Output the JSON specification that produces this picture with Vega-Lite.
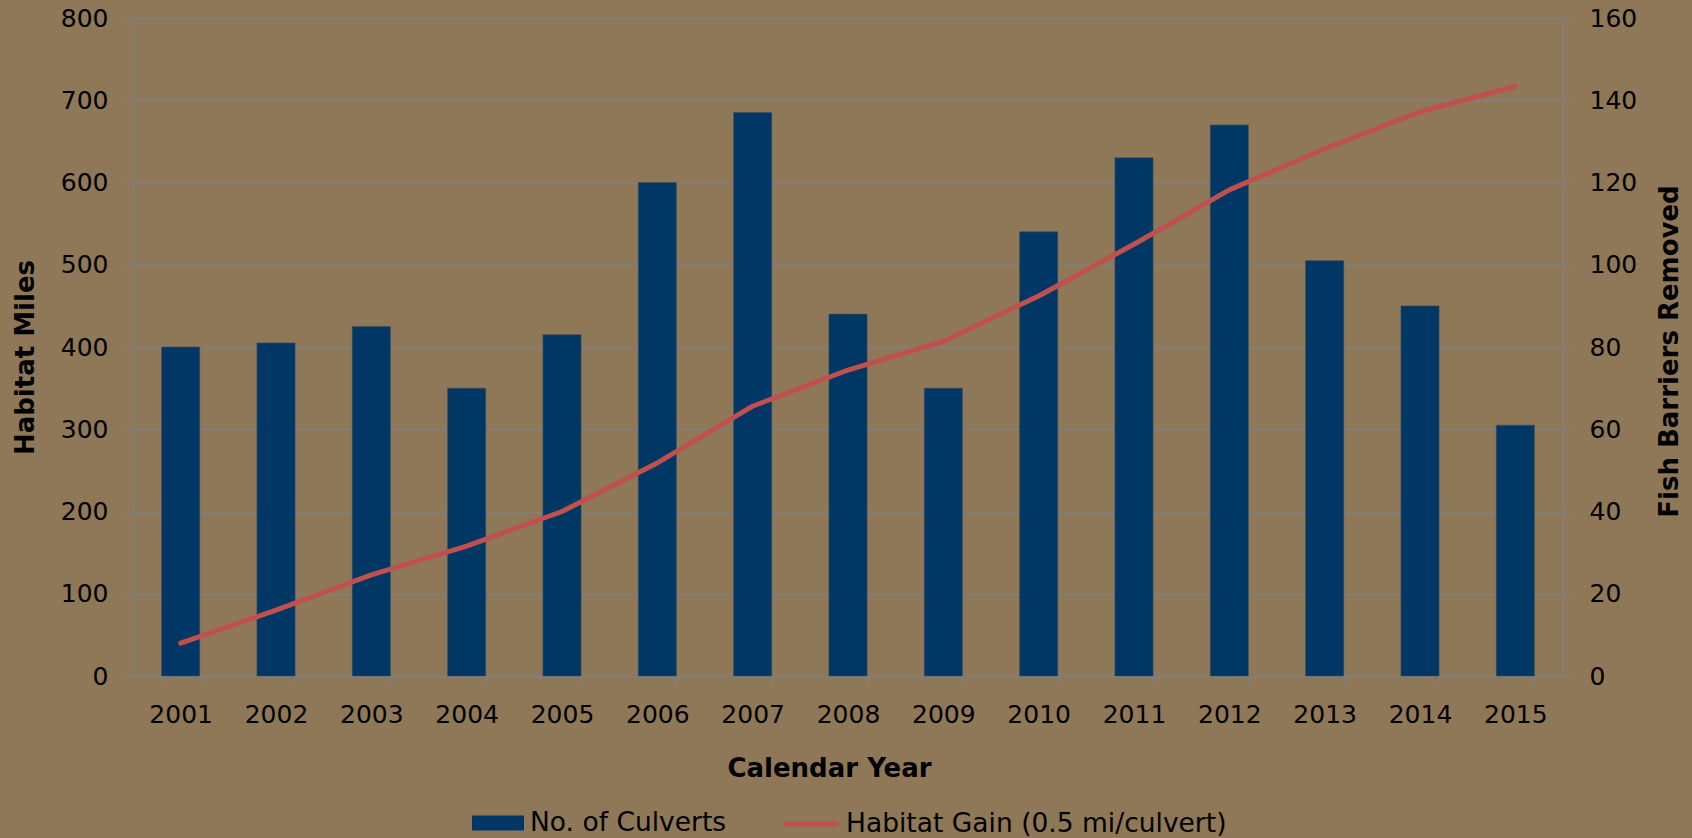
{
  "$schema": "https://vega.github.io/schema/vega-lite/v6.json",
  "width": 1430,
  "height": 658,
  "autosize": {"type": "none"},
  "padding": {"left": 133, "top": 18, "right": 129, "bottom": 162},
  "background": "#8F7857",
  "config": {
    "view": {"stroke": null},
    "font": "DejaVu Sans",
    "axis": {
      "labelFont": "DejaVu Sans",
      "labelFontSize": 25,
      "labelColor": "#000000",
      "titleFont": "DejaVu Sans",
      "titleFontSize": 26,
      "titleFontWeight": "bold",
      "titleColor": "#000000",
      "domainColor": "#808080",
      "domainWidth": 1.5,
      "tickColor": "#808080",
      "tickWidth": 1.5,
      "tickSize": 9,
      "gridColor": "#808080",
      "gridWidth": 1.5
    },
    "legend": {
      "labelFont": "DejaVu Sans",
      "labelFontSize": 26.5,
      "labelColor": "#000000",
      "labelLimit": 0
    }
  },
  "data": {
    "values": [
      {"year": "2001", "culverts": 80, "habitat": 40},
      {"year": "2002", "culverts": 81, "habitat": 80},
      {"year": "2003", "culverts": 85, "habitat": 123},
      {"year": "2004", "culverts": 70, "habitat": 158},
      {"year": "2005", "culverts": 83, "habitat": 200},
      {"year": "2006", "culverts": 120, "habitat": 259},
      {"year": "2007", "culverts": 137, "habitat": 328},
      {"year": "2008", "culverts": 88, "habitat": 372},
      {"year": "2009", "culverts": 70, "habitat": 407},
      {"year": "2010", "culverts": 108, "habitat": 462},
      {"year": "2011", "culverts": 126, "habitat": 525},
      {"year": "2012", "culverts": 134, "habitat": 591},
      {"year": "2013", "culverts": 101, "habitat": 641},
      {"year": "2014", "culverts": 90, "habitat": 686},
      {"year": "2015", "culverts": 61, "habitat": 717}
    ]
  },
  "encoding": {
    "x": {
      "field": "year",
      "type": "ordinal",
      "scale": {"paddingInner": 0.6, "paddingOuter": 0.3},
      "axis": {
        "title": "Calendar Year",
        "labelAngle": 0,
        "labelPadding": 17,
        "tickBand": "extent",
        "titleX": 696,
        "titleY": 100,
        "titleBaseline": "alphabetic",
        "titleAnchor": "middle",
        "titleAlign": "center"
      }
    }
  },
  "layer": [
    {
      "mark": {"type": "bar", "stroke": "#3a4f63", "strokeWidth": 0.6},
      "encoding": {
        "y": {
          "field": "culverts",
          "type": "quantitative",
          "scale": {"domain": [0, 160]},
          "axis": {
            "orient": "right",
            "title": "Fish Barriers Removed",
            "values": [0, 20, 40, 60, 80, 100, 120, 140, 160],
            "grid": false,
            "labelPadding": 17,
            "titleAngle": -90,
            "titleX": 114,
            "titleY": 333,
            "titleBaseline": "alphabetic",
            "titleAlign": "center"
          }
        },
        "fill": {
          "datum": "No. of Culverts",
          "scale": {"range": ["#003764"]},
          "legend": {
            "title": null,
            "orient": "none",
            "legendX": 339,
            "legendY": 779,
            "padding": 0,
            "symbolType": "M-1,-0.2885H1V0.2885H-1Z",
            "symbolSize": 2704,
            "symbolStrokeWidth": 0,
            "symbolOpacity": 1,
            "labelOffset": 6
          }
        }
      }
    },
    {
      "mark": {"type": "line", "strokeWidth": 5, "strokeCap": "round", "strokeJoin": "round"},
      "encoding": {
        "y": {
          "field": "habitat",
          "type": "quantitative",
          "scale": {"domain": [0, 800]},
          "axis": {
            "orient": "left",
            "title": "Habitat Miles",
            "values": [0, 100, 200, 300, 400, 500, 600, 700, 800],
            "grid": true,
            "labelPadding": 16,
            "titleAngle": -90,
            "titleX": -100,
            "titleY": 339,
            "titleBaseline": "alphabetic",
            "titleAlign": "center"
          }
        },
        "stroke": {
          "datum": "Habitat Gain (0.5 mi/culvert)",
          "scale": {"range": ["#C0504D"]},
          "legend": {
            "title": null,
            "orient": "none",
            "legendX": 648,
            "legendY": 776,
            "padding": 0,
            "symbolType": "stroke",
            "symbolSize": 3025,
            "symbolStrokeWidth": 5,
            "symbolOpacity": 1,
            "labelOffset": 5
          }
        }
      }
    }
  ],
  "resolve": {"scale": {"y": "independent"}}
}
